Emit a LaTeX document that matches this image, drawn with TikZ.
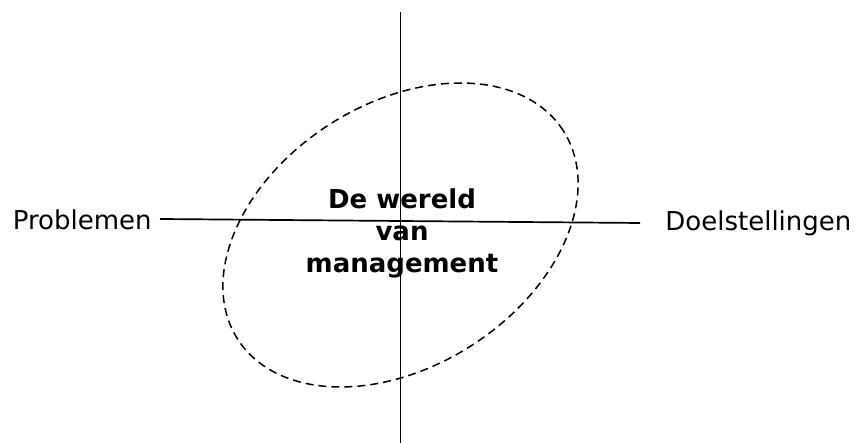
\documentclass[tikz,border=0pt]{standalone}
\usepackage{fontspec}
\setmainfont{DejaVu Sans}
\usepackage{tikz}

\begin{document}
\begin{tikzpicture}[x=0.5pt,y=0.5pt]
  \useasboundingbox (0,0) rectangle (855,443);
  \tikzset{label/.style={font=\fontsize{13}{16}\selectfont,inner sep=0pt}}
  \coordinate (top) at (400.5,431);
  \coordinate (bot) at (400.5,0);
  \coordinate (left) at (160,224);
  \coordinate (right) at (640,220);
  \draw[line width=0.85pt] (top) -- (bot);
  \draw[line width=0.85pt] (left) -- (right);
  \draw[line width=0.75pt,dash pattern=on 4pt off 2.5pt]
    (400.5,208) ellipse [x radius=193.3,y radius=131.4,rotate=32.6];
  \node[label,anchor=east] (prob) at (152,223) {Problemen};
  \node[label,anchor=west] (doel) at (665,220) {Doelstellingen};
  \node[label,font=\fontsize{13}{16}\selectfont\bfseries,align=center] (wereld) at (402,210)
    {De wereld\\van\\management};
\end{tikzpicture}
\end{document}
